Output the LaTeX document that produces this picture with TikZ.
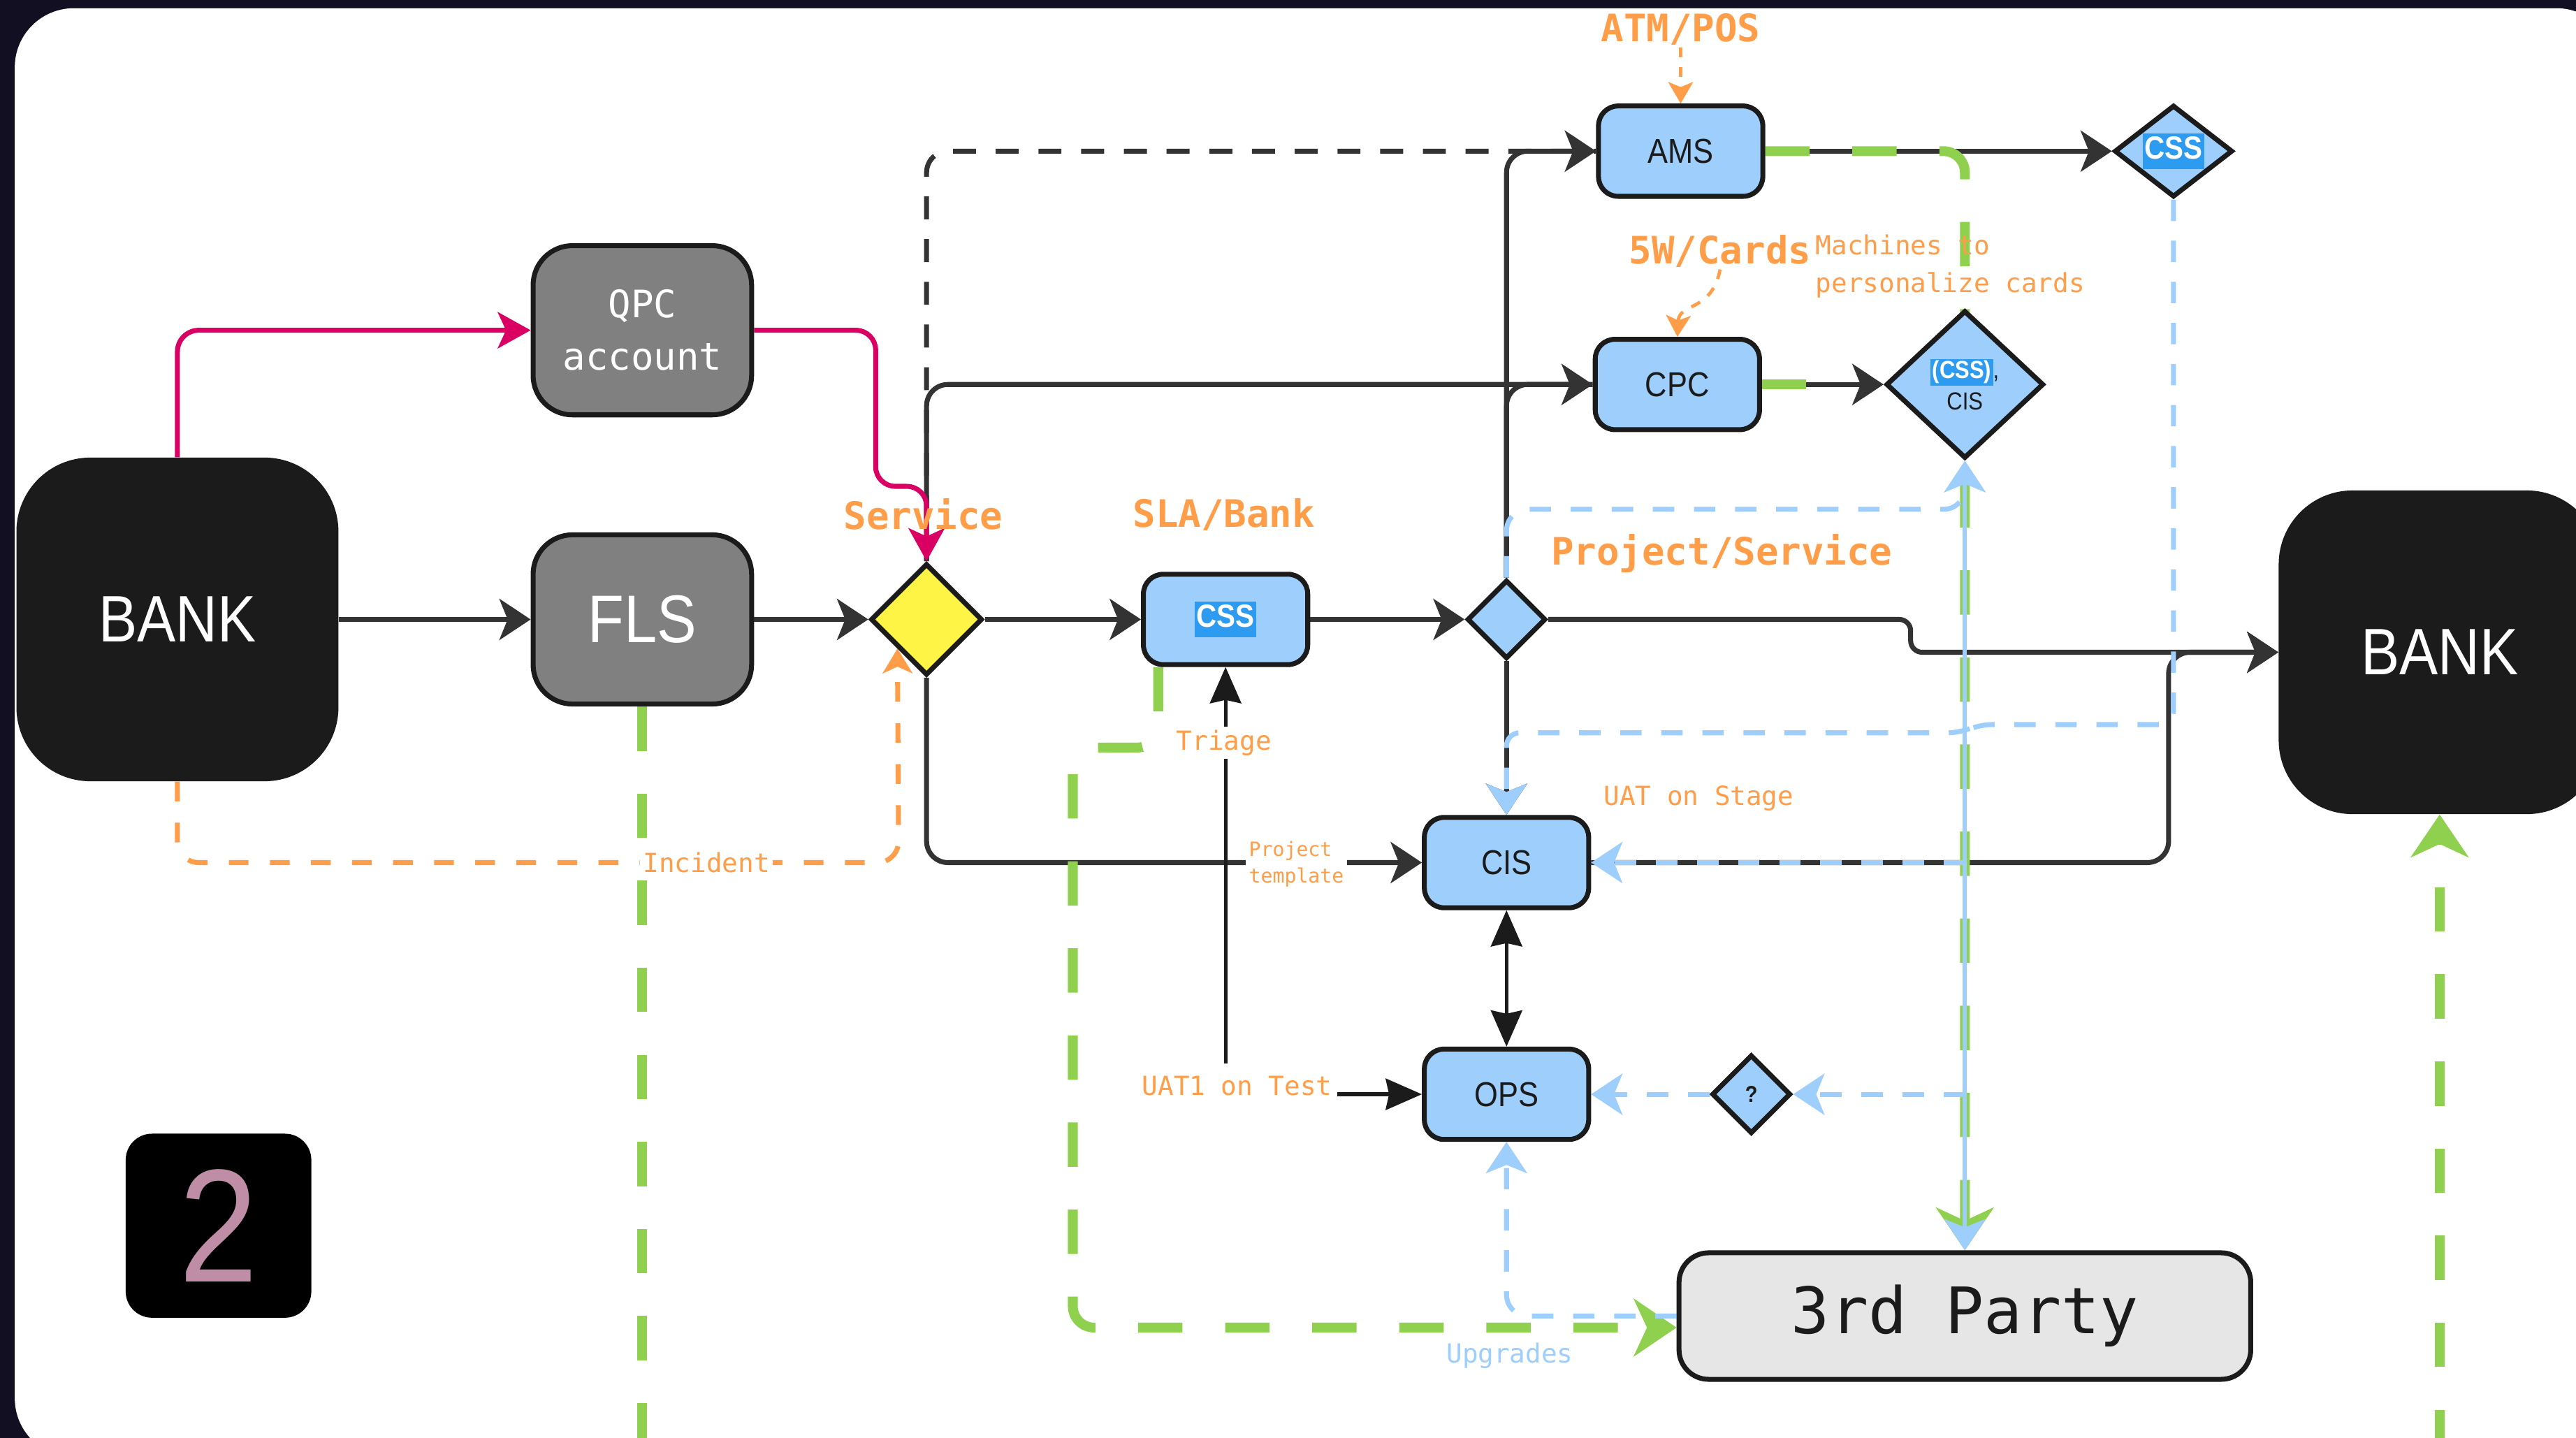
\documentclass[tikz,border=0pt]{standalone}
\usepackage{fontspec}
\setmainfont{Liberation Sans}[FakeStretch=0.88]
\newfontfamily\monof{DejaVu Sans Mono}
\usetikzlibrary{arrows.meta,shapes.geometric}
\definecolor{framec}{HTML}{110F21}
\definecolor{ink}{HTML}{1B1B1B}
\definecolor{lnk}{HTML}{333333}
\definecolor{nodegray}{HTML}{808080}
\definecolor{lblue}{HTML}{9ECEFC}
\definecolor{hlblue}{HTML}{2D9BF0}
\definecolor{ylw}{HTML}{FEF445}
\definecolor{orng}{HTML}{FF9D48}
\definecolor{grn}{HTML}{8FD14F}
\definecolor{mgnt}{HTML}{DA0063}
\definecolor{lgray}{HTML}{E6E6E6}
\definecolor{pinktwo}{HTML}{C08DA6}
\newcommand\hlbox[1]{{\setlength{\fboxsep}{0pt}\colorbox{hlblue}{\rule[-0.3em]{0pt}{1.1em}\hspace{1pt}\textcolor{white}{\bfseries #1}\hspace{1pt}}}}
\pgfdeclarelayer{bgpanel}
\pgfdeclarelayer{wires}
\pgfsetlayers{bgpanel,wires,main}
\begin{document}
\begin{tikzpicture}[x=1pt,y=-1pt,
  bluebox/.style={draw=ink, line width=3pt, fill=lblue, rounded corners=12pt, minimum width=100pt, minimum height=55pt, inner sep=0pt, text=ink, font=\fontsize{21}{25}\selectfont},
  graybox/.style={draw=ink, line width=3pt, fill=nodegray, rounded corners=24pt, minimum width=133pt, minimum height=103pt, inner sep=0pt, text=white},
  bankbox/.style={fill=ink, rounded corners=45pt, minimum width=196pt, minimum height=197pt, inner sep=0pt, text=white, font=\fontsize{40}{40}\selectfont},
  dmd/.style={shape=diamond, draw=ink, line width=3pt, inner sep=0pt, text=ink},
  olabel/.style={text=orng, font=\monof\bfseries\fontsize{23}{27}\selectfont, inner sep=1pt},
  osmall/.style={text=orng, font=\monof\fontsize{16}{23}\selectfont, inner sep=2pt},
  blk/.style={draw=lnk, line width=3pt, rounded corners=13pt},
  thinblk/.style={draw=ink, line width=2.2pt},
  mag/.style={draw=mgnt, line width=3pt, rounded corners=13pt},
  org/.style={draw=orng, line width=3pt, rounded corners=13pt, dash pattern=on 12pt off 13pt},
  orgthin/.style={draw=orng, line width=2pt, dash pattern=on 6pt off 6pt},
  grnsix/.style={draw=grn, line width=6pt, rounded corners=13pt, dash pattern=on 27pt off 26pt},
  blu/.style={draw=lblue, line width=3pt, rounded corners=13pt, dash pattern=on 13pt off 12pt},
  blusolid/.style={draw=lblue, line width=2.5pt},
  blkdash/.style={dash pattern=on 14pt off 12pt},
  ablk/.style={-{Stealth[length=19pt,width=25pt,inset=5pt]}},
  amag/.style={-{Stealth[length=20pt,width=22pt,inset=5pt]}},
  aorg/.style={-{Stealth[length=15pt,width=18pt,inset=4pt]}},
  aorgs/.style={-{Stealth[length=13pt,width=15pt,inset=3pt]}},
  agrn/.style={-{Stealth[length=26pt,width=35pt,inset=8pt]}},
  ablu/.style={-{Stealth[length=19pt,width=25pt,inset=5pt]}},
  abluboth/.style={{Stealth[length=19pt,width=25pt,inset=5pt]}-{Stealth[length=19pt,width=25pt,inset=5pt]}},
  >={Stealth[length=22pt,width=19pt,inset=2pt]}
]
\useasboundingbox (0,0) rectangle (1568,875);
\begin{pgfonlayer}{bgpanel}
  \fill[framec] (0,0) rectangle (1568,875);
  \fill[white, rounded corners=36pt] (9,5) rectangle (1592,887);
\end{pgfonlayer}

% ---------- nodes ----------
\node[bankbox] (bankL) at (108,377) {BANK};
\node[bankbox] (bankR) at (1485,397) {BANK};
\node[graybox, font=\monof\fontsize{23}{32}\selectfont, align=center] (qpc) at (391,201) {QPC\\account};
\node[graybox, font=\fontsize{41}{41}\selectfont] (fls) at (391,377) {FLS};
\node[dmd, fill=ylw, minimum width=68pt, minimum height=68pt] (svc) at (564,377) {};
\node[bluebox, font=\fontsize{19.5}{22}\selectfont] (css1) at (746,377) {\hlbox{CSS}};
\node[dmd, fill=lblue, minimum width=48pt, minimum height=48pt] (d2) at (917,377) {};
\node[bluebox] (ams) at (1023,92) {AMS};
\node[dmd, fill=lblue, minimum width=72pt, minimum height=56pt, aspect=1.3, font=\fontsize{19.5}{22}\selectfont] (css2) at (1323,92) {\hlbox{CSS}};
\node[bluebox] (cpc) at (1021,234) {CPC};
\node[dmd, fill=lblue, minimum width=96pt, minimum height=90pt, align=center, font=\fontsize{15}{19}\selectfont] (d3) at (1196,234) {\hlbox{(CSS)},\\CIS};
\node[bluebox] (cis) at (917,525) {CIS};
\node[bluebox] (ops) at (917,666) {OPS};
\node[dmd, fill=lblue, minimum width=48pt, minimum height=48pt, font=\bfseries\fontsize{14}{16}\selectfont] (dq) at (1066,666) {?};
\node[draw=ink, line width=3pt, fill=lgray, rounded corners=18pt, minimum width=348pt, minimum height=77pt, inner sep=0pt, text=ink, font=\monof\fontsize{39}{40}\selectfont] (third) at (1196,801) {3rd Party};
\node[fill=black, rounded corners=16pt, minimum width=113pt, minimum height=112pt, inner sep=0pt, text=pinktwo, font=\fontsize{98}{98}\selectfont] (badge) at (133,746) {2};

% ---------- labels ----------
\node[olabel] (lsvc) at (562,313) {Service};
\node[olabel] (lsla) at (745,313) {SLA/Bank};
\node[olabel] (lproj) at (1048,337) {Project/Service};
\node[olabel] (atm) at (1023,18) {ATM/POS};
\node[olabel] (wfive) at (1047,153) {5W/Cards};
\node[osmall, anchor=west, align=left] (lmach) at (1103,162) {Machines to\\personalize cards};
\node[osmall, fill=white] (ltri) at (745,452) {Triage};
\node[osmall] (luat) at (1034,486) {UAT on Stage};
\node[osmall, fill=white] (linc) at (430,525) {Incident};
\node[text=orng, font=\monof\fontsize{12}{16}\selectfont, fill=white, inner sep=2pt, align=left, anchor=west] (lpt) at (758,526) {Project\\template};
\node[osmall, fill=white, inner ysep=8pt, inner xsep=3pt] (luat1) at (753,661) {UAT1 on Test};
\node[text=lblue, font=\monof\fontsize{16}{23}\selectfont, inner sep=2pt] (lupg) at (919,825) {Upgrades};

% ---------- free ends ----------
\coordinate (flsend) at (391,885);
\coordinate (bankRend) at (1485,885);
\coordinate (vfive) at (1196,525);
\coordinate (vsix) at (1196,666);

% ---------- connectors ----------
\begin{pgfonlayer}{wires}
  % black dashed
  \draw[blk, blkdash] (svc.north) -- (564,92) -- (ams.west);
  % black main flow
  \draw[blk, ablk] (bankL.east) -- (fls.west);
  \draw[blk, ablk] (fls.east) -- (svc.west);
  \draw[blk, ablk] (svc.east) -- (css1.west);
  \draw[blk, ablk] (css1.east) -- (d2.west);
  \draw[blk, ablk, rounded corners=7pt] (d2.east) -- (1163,377) -- (1163,397) -- (bankR.west);
  \draw[blk, ablk] (cis.east) -- (1320,525) -- (1320,397) -- (bankR.west);
  \draw[blk, ablk] (svc.north) -- (564,234) -- (cpc.west);
  \draw[blk, ablk] (d2.north) -- (917,92) -- (ams.west);
  \draw[blk] (d2.north) -- (917,234) -- (cpc.west);
  \draw[blk, ablk] (d2.south) -- (cis.north);
  \draw[blk, ablk] (svc.south) -- (564,525) -- (cis.west);
  \draw[blk, ablk] (ams.east) -- (css2.west);
  \draw[blk, ablk] (cpc.east) -- (d3.west);
  % thin black
  \draw[thinblk, <->] (cis.south) -- (ops.north);
  \draw[thinblk, <->] (css1.south) -- (746,666) -- (ops.west);
  % magenta
  \draw[mag, amag] (bankL.north) -- (108,201) -- (qpc.west);
  \draw[mag, amag, rounded corners=12pt] (qpc.east) -- (533,201) -- (533,296) -- (564,296) -- (svc.north);
  % orange
  \draw[org, aorg] (bankL.south) -- (108,525) -- (547,525) -- (svc.south west);
  \draw[orgthin, aorgs] (atm.south) -- (ams.north);
  \draw[orgthin, aorgs] (wfive.south) .. controls (1042,190) and (1022,184) .. (cpc.north);
  % green thick
  \draw[grnsix] (fls.south) -- (flsend);
  \draw[grnsix, agrn] ([xshift=-41pt]css1.south) -- (705,455) -- (653,455) -- (653,808) -- ([yshift=-7pt]third.west);
  \draw[grnsix, agrn] (bankRend) -- (bankR.south);
  \draw[grnsix] (cpc.east) -- ([xshift=-28pt]d3.west);
  \draw[grnsix, agrn] (ams.east) -- (1196,92) -- (third.north);
  % blue dashed
  \draw[blu, ablu, rounded corners=8pt] (css2.south) -- (1323,441) -- (1204,441) -- (1194,446) -- (917,446) -- (cis.north);
  \draw[blu, ablu] (d2.north) -- (917,310) -- (1196,310) -- (d3.south);
  \draw[blu, ablu] (vfive) -- (cis.east);
  \draw[blu, ablu] (vsix) -- (dq.east);
  \draw[blu, ablu] (dq.west) -- (ops.east);
  \draw[blu, ablu] (third.west) -- (917,801) -- (ops.south);
  % blue solid on the vertical
  \draw[blusolid, abluboth] (d3.south) -- (third.north);
\end{pgfonlayer}
\end{tikzpicture}
\end{document}
